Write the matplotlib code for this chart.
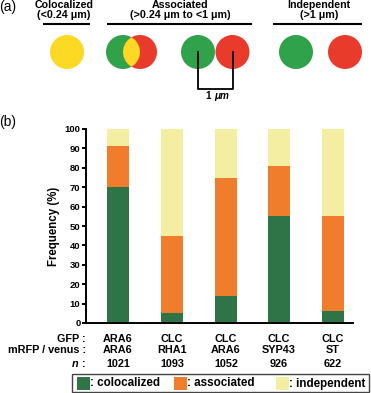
import matplotlib
matplotlib.use("Agg")
import matplotlib.pyplot as plt
from matplotlib.patches import Circle, Rectangle
import numpy as np

plt.rcParams['font.family'] = ['Liberation Sans', 'DejaVu Sans']
plt.rcParams['font.weight'] = 'bold'

# data
gfp = ['ARA6', 'CLC', 'CLC', 'CLC', 'CLC']
mrfp = ['ARA6', 'RHA1', 'ARA6', 'SYP43', 'ST']
n_values = [1021, 1093, 1052, 926, 622]
colocalized = [70, 5, 14, 55, 6]
associated = [21, 40, 61, 26, 49]
independent = [9, 55, 25, 19, 45]

c_green = '#2e7447'
c_orange = '#f07d2c'
c_yellow = '#f3eea2'

W, H = 371, 393
fig = plt.figure(figsize=(W / 100, H / 100), dpi=100)

# overlay axes in pixel coords for panel (a), labels and legend
ov = fig.add_axes([0, 0, 1, 1])
ov.set_xlim(0, W)
ov.set_ylim(H, 0)
ov.axis('off')

# ---- panel (a)
ov.text(-1, 7, '(a)', fontsize=10, fontweight='normal', va='center', ha='left')
ov.text(-1, 122, '(b)', fontsize=10, fontweight='normal', va='center', ha='left')

headers = [(64, 'Colocalized', '(<0.24 μm)', 43, 90),
           (180, 'Associated', '(>0.24 μm to <1 μm)', 107, 252),
           (319, 'Independent', '(>1 μm)', 273, 362)]
for x, t1, t2, l0, l1 in headers:
    ov.text(x, 4.5, t1, fontsize=7.7, ha='center', va='center')
    ov.text(x, 15, t2, fontsize=7.7, ha='center', va='center')
    ov.plot([l0, l1], [24, 24], color='black', lw=1.5, solid_capstyle='butt')

cg = '#2fa24b'
cr = '#e93b2b'
cy = '#fbd925'
r = 17
cy0 = 52
ov.add_patch(Circle((67, cy0), r, color=cy, lw=0))
# overlapping pair
ov.add_patch(Circle((123, cy0), r, color=cg, lw=0))
red = Circle((140, cy0), r, color=cr, lw=0)
ov.add_patch(red)
lens = Circle((123, cy0), r, color=cy, lw=0)
ov.add_patch(lens)
lens.set_clip_path(red)
# touching pair with scale bar
ov.add_patch(Circle((198, cy0), r, color=cg, lw=0))
ov.add_patch(Circle((232.5, cy0), r, color=cr, lw=0))
ov.plot([198, 198, 232.5, 232.5], [cy0, 89, 89, cy0], color='black', lw=1.3)
ov.text(214, 96, '1 ', fontsize=7.2, ha='right', va='center')
ov.text(214, 96, 'μm', fontsize=7.2, ha='left', va='center', style='italic')
# independent pair
ov.add_patch(Circle((296, cy0), r, color=cg, lw=0))
ov.add_patch(Circle((345, cy0), r, color=cr, lw=0))

# ---- panel (b) bars
ax = fig.add_axes([86 / W, (H - 323) / H, (353 - 86) / W, (323 - 129) / H])
x = np.arange(len(colocalized))
colo = np.array(colocalized)
asso = np.array(associated)
inde = np.array(independent)
ax.bar(x, colo, width=0.41, color=c_green)
ax.bar(x, asso, width=0.41, bottom=colo, color=c_orange)
ax.bar(x, inde, width=0.41, bottom=colo + asso, color=c_yellow)
ax.set_xlim(-0.595, 4.37)
ax.set_ylim(0, 100)
ax.set_yticks(np.arange(0, 101, 10))
ax.set_xticks([])
for s in ['top', 'right']:
    ax.spines[s].set_visible(False)
ax.spines['left'].set_linewidth(1.4)
ax.spines['bottom'].set_linewidth(1.4)
ax.tick_params(axis='y', length=3, width=1.4, pad=1, labelsize=6.8)
for lab in ax.get_yticklabels():
    lab.set_fontweight('bold')
ax.set_ylabel('Frequency (%)', fontsize=8.3, fontweight='bold', labelpad=3)

# row labels under bars
rows_y = [338.5, 350, 364]
fs = 7.8
ov.text(86, rows_y[0], 'GFP :', fontsize=fs, ha='right', va='center')
ov.text(86, rows_y[1], 'mRFP / venus :', fontsize=fs, ha='right', va='center')
ov.text(86, rows_y[2], ':', fontsize=fs, ha='right', va='center')
ov.text(78, rows_y[2], 'n', fontsize=fs, ha='right', va='center', style='italic')
centers = [118, 172, 226, 279, 333]
for xc, g, m, n in zip(centers, gfp, mrfp, n_values):
    ov.text(xc, rows_y[0], g, fontsize=fs, ha='center', va='center')
    ov.text(xc, rows_y[1], m, fontsize=fs, ha='center', va='center')
    ov.text(xc, rows_y[2], str(n), fontsize=fs, ha='center', va='center')

# legend box
ov.add_patch(Rectangle((72, 374), 297, 18, fill=False, ec='#444444', lw=1))
for px, col, lab in [(77, c_green, ': colocalized'), (174, c_orange, ': associated'),
                     (276, c_yellow, ': independent')]:
    ov.add_patch(Rectangle((px, 377), 13, 13, color=col, lw=0))
    ov.text(px + 13, 383.5, lab, fontsize=8.4, ha='left', va='center')

fig.savefig('out.png', dpi=100)
